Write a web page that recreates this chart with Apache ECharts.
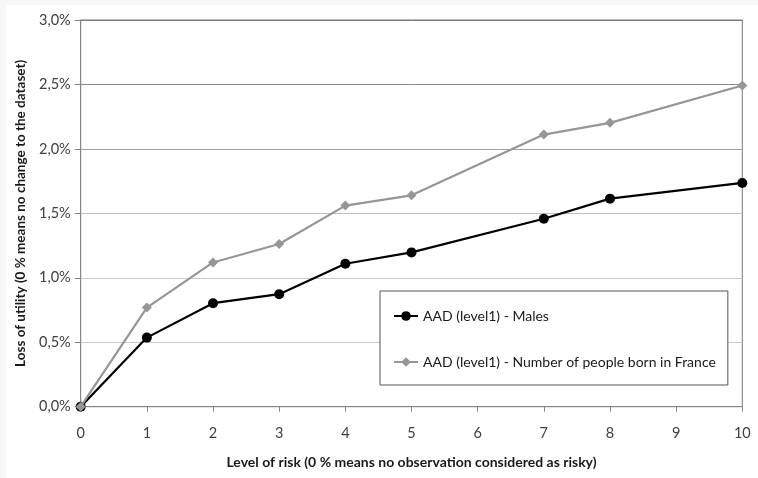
<!DOCTYPE html>
<html>
<head>
<meta charset="utf-8">
<script src="https://cdn.jsdelivr.net/npm/echarts@6/dist/echarts.min.js"></script>
<style>
html,body{margin:0;padding:0;background:#f7f7f7;width:758px;height:478px;overflow:hidden;}
#chart{position:absolute;left:6px;top:5px;width:752px;height:473px;background:#fff;}
</style>
</head>
<body>
<div id="chart"></div>
<script>
const riskLevels = [0, 1, 2, 3, 4, 5, 7, 8, 10];
const malesLoss = [0, 0.536, 0.803, 0.873, 1.109, 1.197, 1.458, 1.614, 1.736];
const bornFranceLoss = [0, 0.769, 1.119, 1.262, 1.560, 1.640, 2.111, 2.202, 2.492];
const seriesNames = ['AAD (level1) - Males', 'AAD (level1) - Number of people born in France'];
const xTitle = 'Level of risk (0 % means no observation considered as risky)';
const yTitle = 'Loss of utility (0 % means no change to the dataset)';

const FONT = 'Lato';
const pct = v => v.toFixed(1).replace('.', ',') + '%';

const chart = echarts.init(document.getElementById('chart'), null, {renderer: 'canvas'});
chart.setOption({
  animation: false,
  textStyle: {fontFamily: FONT},
  grid: {left: 74.7, right: 15.7, top: 15, bottom: 71.3, show: true, borderColor: '#7a7a7a', borderWidth: 1},
  xAxis: {
    type: 'value', min: 0, max: 10, interval: 1,
    name: xTitle, nameLocation: 'middle', nameGap: 49,
    nameTextStyle: {fontFamily: FONT, fontSize: 14, fontWeight: 'bold', color: '#1a1a1a'},
    axisLine: {show: true, lineStyle: {color: '#868686', width: 1}},
    axisTick: {show: true, inside: false, length: 5, lineStyle: {color: '#868686'}},
    axisLabel: {margin: 19, fontSize: 14.5, color: '#404040', fontFamily: FONT},
    splitLine: {show: false}
  },
  yAxis: {
    type: 'value', min: 0, max: 3, interval: 0.5,
    name: yTitle, nameLocation: 'middle', nameGap: 51, nameRotate: 90,
    nameTextStyle: {fontFamily: FONT, fontSize: 13.5, fontWeight: 'bold', color: '#1a1a1a'},
    axisLine: {show: true, lineStyle: {color: '#868686', width: 1}},
    axisTick: {show: true, inside: false, length: 6, lineStyle: {color: '#868686'}},
    axisLabel: {margin: 10, fontSize: 14.5, color: '#404040', fontFamily: FONT, formatter: pct},
    splitLine: {show: true, lineStyle: {color: ['#c8c8c8', '#c8c8c8', '#c8c8c8', '#c0c0c0', '#a0a0a0', '#8c8c8c', '#7a7a7a'], width: 1}}
  },
  legend: {
    show: true, orient: 'vertical', left: 374, top: 286,
    padding: [18, 12, 16, 13], itemGap: 32, itemWidth: 24, itemHeight: 12,
    backgroundColor: '#fff', borderColor: '#555', borderWidth: 1, borderRadius: 0,
    textStyle: {fontFamily: FONT, fontSize: 14, color: '#1a1a1a'},
    data: seriesNames
  },
  series: [
    {
      name: seriesNames[0], type: 'line',
      data: riskLevels.map((x, i) => [x, malesLoss[i]]),
      symbol: 'circle', symbolSize: 10,
      lineStyle: {color: '#000', width: 2.2},
      itemStyle: {color: '#000'},
      z: 2
    },
    {
      name: seriesNames[1], type: 'line',
      data: riskLevels.map((x, i) => [x, bornFranceLoss[i]]),
      symbol: 'diamond', symbolSize: 10,
      lineStyle: {color: '#969696', width: 2.2},
      itemStyle: {color: '#969696'},
      z: 3
    }
  ]
});
</script>
</body>
</html>
